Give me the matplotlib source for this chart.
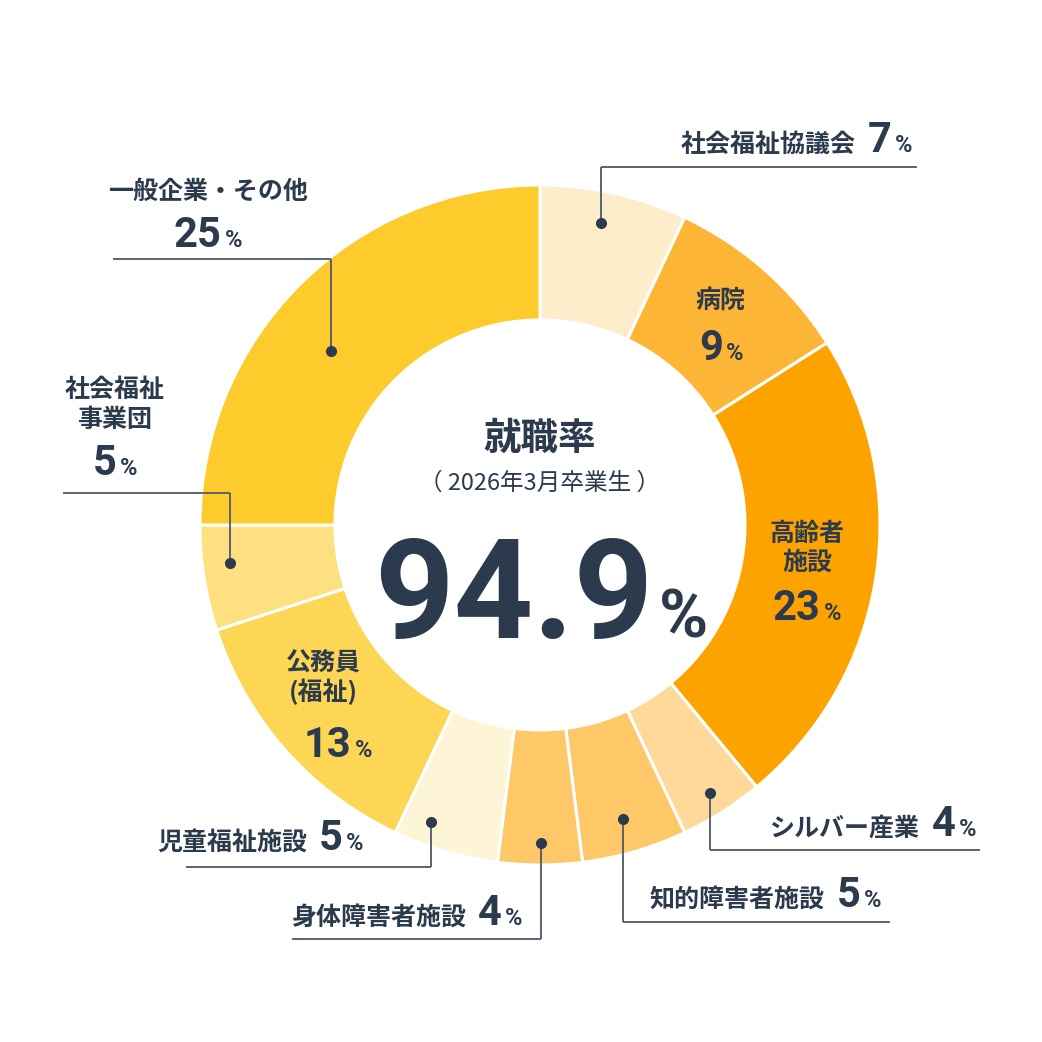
import matplotlib
matplotlib.use("Agg")
import matplotlib.pyplot as plt

W = H = 1042
NAVY = "#2b3a4d"
LINE = "#4d596a"
JP = ["Noto Sans CJK JP", "DejaVu Sans"]
NUM = ["Roboto", "DejaVu Sans"]

# data
categories = ["社会福祉協議会", "病院", "高齢者施設", "シルバー産業", "知的障害者施設",
              "身体障害者施設", "児童福祉施設", "公務員(福祉)", "社会福祉事業団", "一般企業・その他"]
shares = [7, 9, 23, 4, 5, 4, 5, 13, 5, 25]
title = "就職率"
subtitle = "（ 2026年3月卒業生 ）"
rate = "94.9"

colors = ["#feedcb", "#fdb536", "#fda300", "#fed99a", "#fec868",
          "#fec868", "#fef4d6", "#fed655", "#fee080", "#fdcb2c"]

# how each label is broken into lines, where it goes (pixel coords, y down)
name_lines = {
    "病院": ["病院"],
    "高齢者施設": ["高齢者", "施設"],
    "公務員(福祉)": ["公務員", "(福祉)"],
    "社会福祉事業団": ["社会福祉", "事業団"],
    "一般企業・その他": ["一般企業・その他"],
}
# stacked labels: x center, name baselines, number x center, number baseline
stacked = {
    "病院": (720, [308], 721, 360),
    "高齢者施設": (807, [541, 570], 807, 620),
    "公務員(福祉)": (323, [670, 700], 338, 757),
    "社会福祉事業団": (115, [397, 427], 115, 475),
    "一般企業・その他": (208, [199], 208, 247),
}
# inline labels: x, baseline, align
inline = {
    "社会福祉協議会": (912, 152, "right"),
    "シルバー産業": (770, 836, "left"),
    "知的障害者施設": (650, 907, "left"),
    "身体障害者施設": (291, 925, "left"),
    "児童福祉施設": (157, 850, "left"),
}
# leaders: horizontal line y, x from, x to, dot (x, y)
leaders = {
    "社会福祉協議会": (167, 601, 917, (601, 223)),
    "シルバー産業": (850, 710, 980, (710, 793)),
    "知的障害者施設": (922, 623, 890, (623, 819)),
    "身体障害者施設": (939, 292, 541, (541, 843)),
    "児童福祉施設": (867, 186, 431, (431, 822)),
    "社会福祉事業団": (493, 63, 230, (230, 563)),
    "一般企業・その他": (259, 113, 331, (331, 351)),
}

fig = plt.figure(figsize=(W / 100, H / 100), dpi=100)
ax = fig.add_axes([0, 0, 1, 1])
ax.set_xlim(0, W)
ax.set_ylim(H, 0)
ax.set_aspect("equal")
ax.axis("off")

# y axis is inverted, so counterclock=True draws clockwise on screen
ax.pie(shares, colors=colors, startangle=270, counterclock=True,
       radius=340, center=(540, 525),
       wedgeprops=dict(width=135, edgecolor="white", linewidth=2.2))
ax.set_xlim(0, W)
ax.set_ylim(H, 0)

renderer = fig.canvas.get_renderer()


def row(x, y, parts, ha="left"):
    # parts: (text, size, family, weight, gap after in px)
    objs, widths = [], []
    for s, size, fam, wt, gap in parts:
        t = ax.text(0, y, s, fontsize=size, family=fam, weight=wt,
                    color=NAVY, va="baseline", ha="left")
        widths.append(t.get_window_extent(renderer=renderer).width + gap)
        objs.append(t)
    total = sum(widths) - parts[-1][4]
    if ha == "center":
        start = x - total / 2
    elif ha == "right":
        start = x - total
    else:
        start = x
    for t, w in zip(objs, widths):
        t.set_x(start)
        start += w


def number(n):
    return [(str(n), 30, NUM, "bold", 3), ("%", 17, NUM, "bold", 0)]


for cat, val in zip(categories, shares):
    if cat in stacked:
        cx, ys, nx, ny = stacked[cat]
        for line, yy in zip(name_lines[cat], ys):
            ax.text(cx, yy, line, fontsize=18, family=JP, weight="bold",
                    color=NAVY, ha="center", va="baseline")
        row(nx, ny, number(val), ha="center")
    else:
        x, y, ha = inline[cat]
        row(x, y, [(cat, 18, JP, "bold", 12)] + number(val), ha=ha)
    if cat in leaders:
        ly, x0, x1, (dx, dy) = leaders[cat]
        ax.plot([x0, x1], [ly, ly], color=LINE, lw=1.3, solid_capstyle="butt")
        ax.plot([dx, dx], [ly, dy], color=LINE, lw=1.3, solid_capstyle="butt")
        ax.plot(dx, dy, "o", color=NAVY, ms=8, mec="none")

# centre text
ax.text(540, 450, title, fontsize=27, family=JP, weight="bold",
        color=NAVY, ha="center", va="baseline")
ax.text(540, 490, subtitle, fontsize=17, family=JP, weight="normal",
        color=NAVY, ha="center", va="baseline")
row(541, 638, [(rate, 100, NUM, "bold", 6), ("%", 48, NUM, "bold", 0)], ha="center")

fig.savefig("out.png", dpi=100, facecolor="white")
